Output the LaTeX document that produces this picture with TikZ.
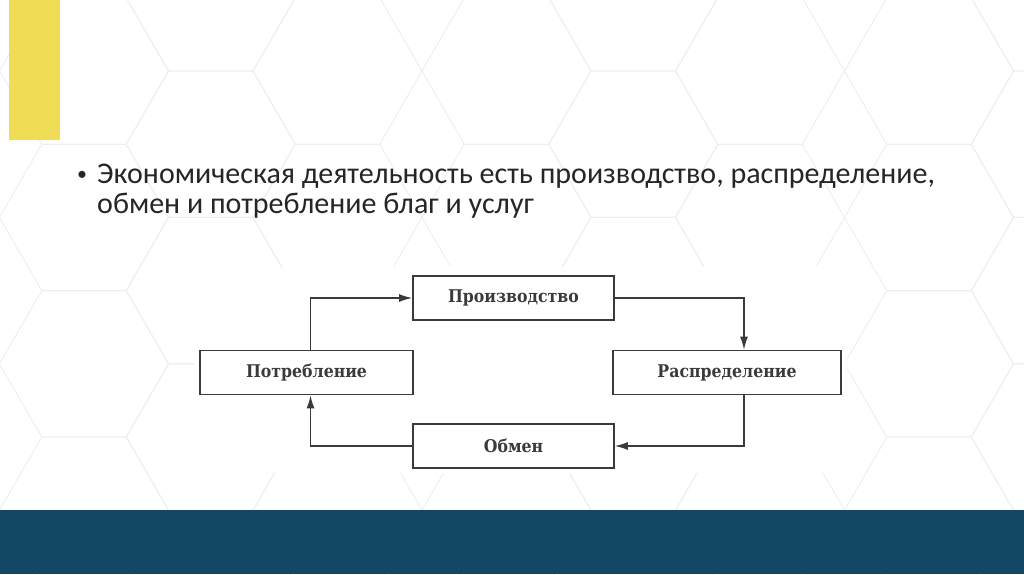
\documentclass[tikz,border=0pt]{standalone}
\usepackage{fontspec}
\setmainfont{Carlito}
\newfontfamily\boxfont{DejaVu Serif Condensed}
\usepackage{tikz}
\usetikzlibrary{arrows.meta,positioning,calc}
\definecolor{slideyellow}{RGB}{240,221,85}
\definecolor{slidenavy}{RGB}{18,72,99}
\definecolor{hexgray}{RGB}{238,238,238}
\definecolor{bodyink}{RGB}{38,38,38}
\definecolor{boxink}{RGB}{58,58,58}

\begin{document}
\begin{tikzpicture}[x=1pt,y=-1pt,
    hexline/.style={draw=hexgray,line width=0.9pt},
    bodytext/.style={font=\fontsize{30}{30}\selectfont,text=bodyink,inner sep=0pt},
    stage/.style={draw=boxink,line width=1.7pt,fill=white,minimum height=44pt,
      inner sep=0pt,font=\boxfont\bfseries\fontsize{17.5}{20}\selectfont,text=boxink},
    flow/.style={draw=boxink,line width=1.4pt,-{Latex[length=13pt,width=8pt]}}]
  \useasboundingbox (0,0) rectangle (1024,574);
  \clip (0,0) rectangle (1024,574);
  \fill[white] (0,0) rectangle (1024,574);

  % honeycomb background: groups of three columns, repeated every 5 sides
  \foreach \t in {-1,0,1,2} {
    \foreach \c/\dy in {0/71, 126.75/-2.2, 253.5/71} {
      \foreach \k in {-1,0,1,2,3,4} {
        \draw[hexline,shift={(84+422.5*\t+\c,\dy+146.4*\k)}]
          (84.5,0) -- (42.25,73.2) -- (-42.25,73.2) -- (-84.5,0)
          -- (-42.25,-73.2) -- (42.25,-73.2) -- cycle;
      }
    }
  }
  \fill[white] (194,267) rectangle (847,473);

  \fill[slideyellow] (9,0) rectangle (60,140);
  \fill[slidenavy] (0,510) rectangle (1024,574);

  \node[bodytext,font=\fontsize{20}{20}\selectfont,anchor=base west] (bullet) at (77,180) {•};
  \node[bodytext,anchor=base west] (line1) at (97,183)
    {Экономическая деятельность есть производство, распределение,};
  \node[bodytext,anchor=base west] (line2) at (97,213)
    {обмен и потребление благ и услуг};

  \node[stage,minimum width=201pt] (prod)  at (513.5,298)   {Производство};
  \node[stage,minimum width=228pt] (raspr) at (727,372.5)   {Распределение};
  \node[stage,minimum width=201pt] (obmen) at (513.5,446)   {Обмен};
  \node[stage,minimum width=213pt] (potr)  at (306.5,372.5) {Потребление};

  \draw[flow] (prod.east) -| ([xshift=17pt]raspr.north);
  \draw[flow] ([xshift=17pt]raspr.south) |- (obmen.east);
  \draw[flow] (obmen.west) -| ([xshift=4pt]potr.south);
  \draw[flow] ([xshift=4pt]potr.north) |- (prod.west);
\end{tikzpicture}
\end{document}
